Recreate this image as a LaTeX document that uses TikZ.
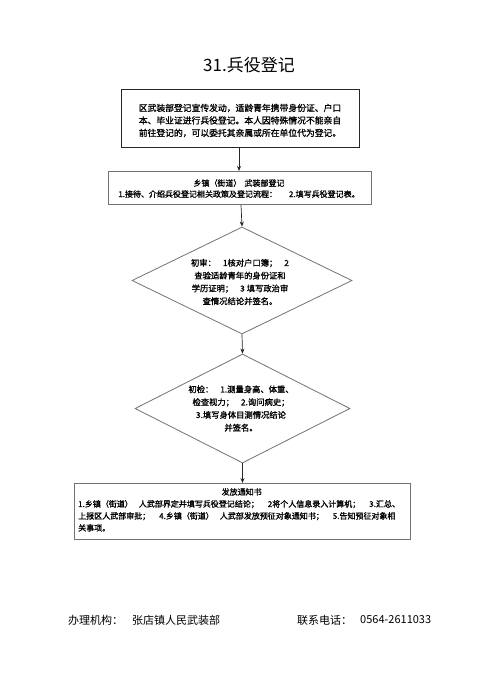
\documentclass[tikz,border=0pt]{standalone}
\usepackage{fontspec}
\setmainfont{Noto Sans CJK SC}
\newfontfamily\heavycjk[FakeBold=1.2]{Noto Sans CJK SC}
\usetikzlibrary{shapes.geometric,arrows.meta}
\begin{document}
\begin{tikzpicture}[x=1pt,y=-1pt,
  flowbox/.style={draw=black!55, line width=0.9pt, rectangle, inner sep=0pt, anchor=north west},
  startbox/.style={draw=black!85, line width=1.3pt, rectangle, inner sep=0pt, anchor=north west},
  decision/.style={draw=black!55, line width=0.8pt, diamond, inner sep=0pt, shape aspect=2},
  bodytext/.style={font=\heavycjk\fontsize{8.8}{12.5}\selectfont, align=left, inner sep=0pt},
  smalltext/.style={font=\heavycjk\fontsize{8}{11}\selectfont, align=center, inner sep=0pt},
  dtext/.style={font=\heavycjk\fontsize{8.3}{12.8}\selectfont, align=center, inner sep=0pt},
  foot/.style={font=\fontsize{11}{13}\selectfont, anchor=west, inner sep=0pt},
  flowarrow/.style={draw=black!85, line width=0.7pt, -{Stealth[length=5pt,width=4pt]}}
]
\useasboundingbox (0,0) rectangle (492,685);
\fill[white] (0,0) rectangle (492,685);

% title
\node[font=\fontsize{17}{20}\selectfont, inner sep=0pt] (title) at (249,65) {31.兵役登记};

% box 1
\node[startbox, minimum width=238, minimum height=58] (b1) at (121,89) {};
\node[bodytext] (t1) at (240,120.5) {区武装部登记宣传发动，适龄青年携带身份证、户口\\本、毕业证进行兵役登记。本人因特殊情况不能亲自\\前往登记的，可以委托其亲属或所在单位代为登记。};

% box 2
\node[flowbox, minimum width=263, minimum height=33] (b2) at (108,171) {};
\node[smalltext] (t2) at (239,188.5) {乡镇（街道）\hspace{3pt}武装部登记\\1.接待、介绍兵役登记相关政策及登记流程：\hspace{12pt}2.填写兵役登记表。};

% diamond 1
\node[decision, minimum width=220, minimum height=107] (d1) at (242,280.5) {};
\node[dtext] (t3) at (240,282) {初审：\hspace{7pt}1核对户口簿；\hspace{7pt}2\\查验适龄青年的身份证和\\学历证明；\hspace{7pt}3 填写政治审\\查情况结论并签名。};

% diamond 2
\node[decision, minimum width=215, minimum height=109] (d2) at (242.5,408.5) {};
\node[dtext] (t4) at (241,408.5) {初检：\hspace{7pt}1.测量身高、体重、\\检查视力；\hspace{7pt}2.询问病史；\\3.填写身体目测情况结论\\并签名。};

% box 3
\node[flowbox, minimum width=336, minimum height=56] (b3) at (74,483) {};
\node[font=\heavycjk\fontsize{8}{12}\selectfont, align=left, inner sep=0pt, anchor=north west] (t5) at (78,488) {\makebox[327pt][c]{发放通知书}\\1.乡镇（街道）\hspace{6pt}人武部界定并填写兵役登记结论；\hspace{9pt}2将个人信息录入计算机；\hspace{9pt}3.汇总、\\上报区人武部审批；\hspace{9pt}4.乡镇（街道）\hspace{6pt}人武部发放预征对象通知书；\hspace{9pt}5.告知预征对象相\\关事项。};

% arrows
\draw[flowarrow] (b1.south -| 239,0) -- (b2.north -| 239,0);
\draw[flowarrow] (b2.south -| 241,0) -- (d1.north);
\draw[flowarrow] (d1.south) -- (d2.north);
\draw[flowarrow] (d2.south) -- (b3.north -| d2.south);

% footer
\node[foot] (f1) at (68,620) {办理机构：};
\node[foot] (f2) at (132,620) {张店镇人民武装部};
\node[foot] (f3) at (297,620) {联系电话：};
\node[foot] (f4) at (360,620) {0564-2611033};
\end{tikzpicture}
\end{document}
